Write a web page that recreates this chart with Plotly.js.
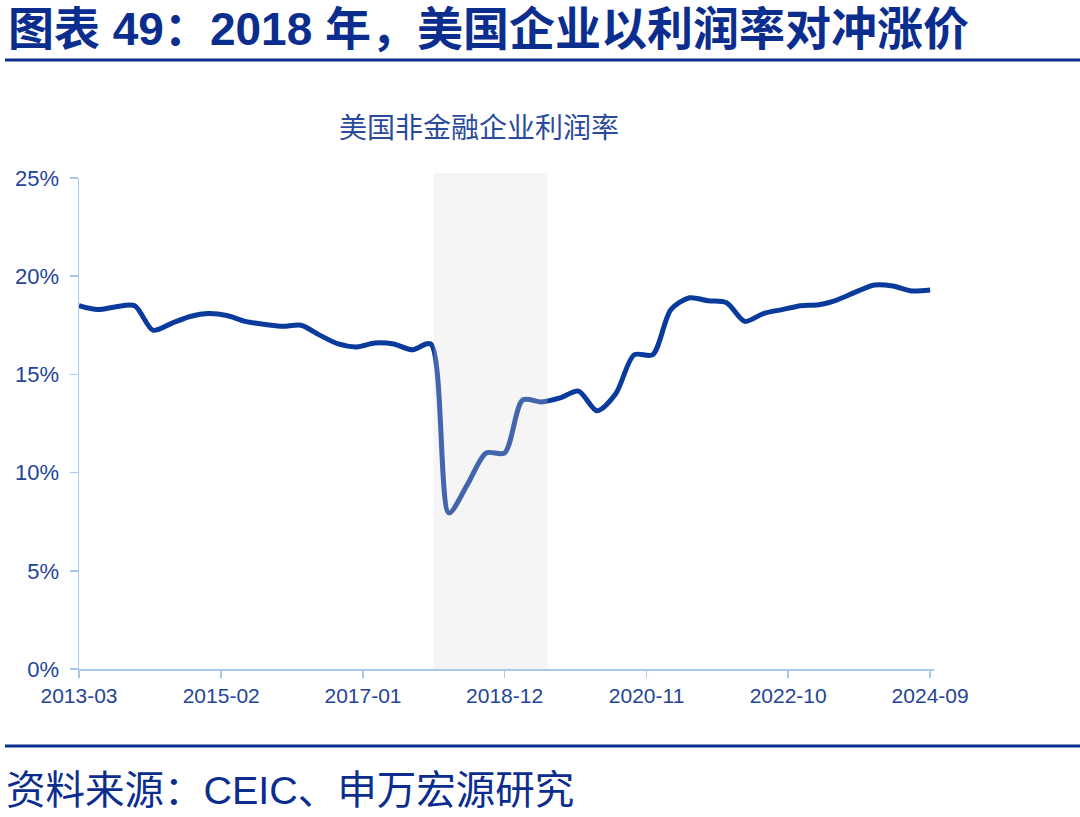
<!DOCTYPE html>
<html>
<head>
<meta charset="utf-8">
<script src="https://cdn.plot.ly/plotly-3.0.1.min.js"></script>
<style>
html,body{margin:0;padding:0;background:#fff;}
#chart{width:1080px;height:817px;}
</style>
</head>
<body>
<div id="chart"></div>
<script>
const quarters = ['2013-03','2013-06','2013-09','2013-12','2014-03','2014-06','2014-09','2014-12',
'2015-03','2015-06','2015-09','2015-12','2016-03','2016-06','2016-09','2016-12',
'2017-03','2017-06','2017-09','2017-12','2018-03','2018-06','2018-09','2018-12',
'2019-03','2019-06','2019-09','2019-12','2020-03','2020-06','2020-09','2020-12',
'2021-03','2021-06','2021-09','2021-12','2022-03','2022-06','2022-09','2022-12',
'2023-03','2023-06','2023-09','2023-12','2024-03','2024-06','2024-09'];
const profitRate = [18.5,18.3,18.45,18.5,17.25,17.6,17.95,18.1,
18.0,17.7,17.55,17.45,17.5,17.0,16.55,16.4,
16.6,16.55,16.25,16.55,7.95,9.4,11.0,11.0,
13.7,13.6,13.8,14.15,13.15,14.0,16.0,16.0,
18.3,18.9,18.75,18.65,17.7,18.1,18.3,18.5,
18.55,18.8,19.2,19.55,19.5,19.25,19.3];
const tickLabels = ['2013-03','2015-02','2017-01','2018-12','2020-11','2022-10','2024-09'];
const shadeStart = '2017-12-16';
const shadeEnd = '2019-07-01';

const heading = '图表 49：2018 年，美国企业以利润率对冲涨价';
const subTitle = '美国非金融企业利润率';
const sourceText = '资料来源：CEIC、申万宏源研究';

// page geometry helpers (pixel -> paper)
const L = 79, R = 934, T = 178, B = 669;
const px = x => (x - L) / (R - L);
const py = y => (B - y) / (B - T);

const navy = '#0B2E8E';
const lineBlue = '#0A3A9C';
const axisBlue = '#A8C8EC';
const tickBlue = '#23449A';

const trace = {
  x: quarters, y: profitRate, type: 'scatter', mode: 'lines',
  line: {color: lineBlue, width: 5, shape: 'spline', smoothing: 0.8},
  hoverinfo: 'x+y'
};

const layout = {
  width: 1080, height: 817,
  margin: {l: L, r: 1080 - R, t: T, b: 817 - B, pad: 0},
  paper_bgcolor: '#fff', plot_bgcolor: '#fff',
  showlegend: false,
  font: {family: 'Liberation Sans, Arial, "Noto Sans CJK SC", sans-serif', color: tickBlue},
  xaxis: {
    type: 'date', range: ['2013-03-01', '2024-09-20'],
    tickvals: tickLabels, ticktext: tickLabels,
    showgrid: false, zeroline: false,
    showline: true, linecolor: axisBlue, linewidth: 1.5,
    ticks: 'outside', ticklen: 7, tickcolor: axisBlue, tickwidth: 1.5,
    tickfont: {size: 21, color: tickBlue, family: 'Liberation Sans, Arial, sans-serif'}
  },
  yaxis: {
    range: [0, 25], dtick: 5, tick0: 0, ticksuffix: '%',
    showgrid: false, zeroline: false,
    showline: true, linecolor: axisBlue, linewidth: 1.5,
    ticks: 'outside', ticklen: 8, tickcolor: axisBlue, tickwidth: 1.5,
    ticklabelstandoff: 6,
    tickfont: {size: 22, color: tickBlue, family: 'Liberation Sans, Arial, sans-serif'}
  },
  shapes: [
    {type: 'rect', xref: 'x', yref: 'paper', x0: shadeStart, x1: shadeEnd,
     y0: 0, y1: py(173), fillcolor: '#D9D9D9', opacity: 0.27, line: {width: 0}, layer: 'above'},
    {type: 'line', xref: 'paper', yref: 'paper', x0: px(5), x1: px(1080), y0: py(60), y1: py(60),
     line: {color: navy, width: 3}},
    {type: 'line', xref: 'paper', yref: 'paper', x0: px(5), x1: px(1080), y0: py(746), y1: py(746),
     line: {color: navy, width: 3}}
  ],
  annotations: [
    {text: '<b>' + heading + '</b>', xref: 'paper', yref: 'paper', x: px(6), y: py(29),
     xanchor: 'left', yanchor: 'middle', showarrow: false,
     font: {size: 46, color: navy, family: 'Liberation Sans, Arial, "Noto Sans CJK SC", sans-serif'}},
    {text: subTitle, xref: 'paper', yref: 'paper', x: px(479), y: py(126),
     xanchor: 'center', yanchor: 'middle', showarrow: false,
     font: {size: 28, color: '#2A4A9C', family: '"Noto Sans CJK SC", sans-serif'}},
    {text: sourceText, xref: 'paper', yref: 'paper', x: px(4), y: py(790),
     xanchor: 'left', yanchor: 'middle', showarrow: false,
     font: {size: 39.5, color: navy, family: 'Liberation Sans, Arial, "Noto Sans CJK SC", sans-serif'}}
  ]
};

Plotly.newPlot('chart', [trace], layout, {displayModeBar: false, staticPlot: true});
</script>
</body>
</html>
